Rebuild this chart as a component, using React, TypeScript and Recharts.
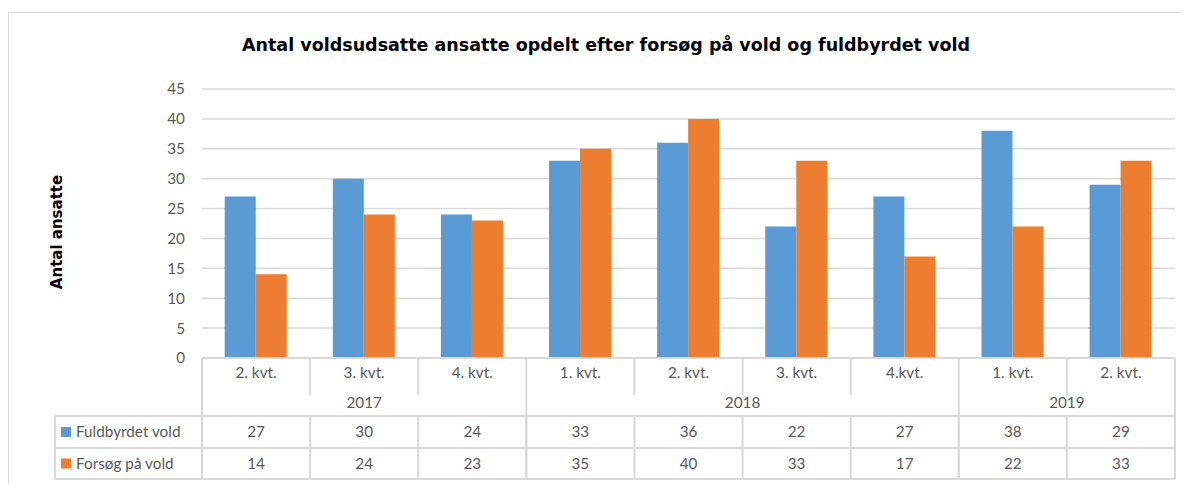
import { BarChart, Bar, XAxis, YAxis, CartesianGrid, Customized } from 'recharts';

const quarters = ['2. kvt.', '3. kvt.', '4. kvt.', '1. kvt.', '2. kvt.', '3. kvt.', '4.kvt.', '1. kvt.', '2. kvt.'];
const years = ['2017', '2017', '2017', '2018', '2018', '2018', '2018', '2019', '2019'];
const fuldbyrdet = [27, 30, 24, 33, 36, 22, 27, 38, 29];
const forsoeg = [14, 24, 23, 35, 40, 33, 17, 22, 33];
const seriesNames = ['Fuldbyrdet vold', 'Forsøg på vold'];
const seriesColors = ['#5b9bd5', '#ed7d31'];
const yTicks = [0, 5, 10, 15, 20, 25, 30, 35, 40, 45];

const data = quarters.map((q, i) => ({ q, year: years[i], a: fuldbyrdet[i], b: forsoeg[i] }));

const W = 1180;
const H = 471;
const M = { top: 76, right: 14, left: 133, bottom: 0 };
const Y_AXIS_W = 60;
const PLOT_L = M.left + Y_AXIS_W;
const PLOT_R = W - M.right;
const BAND = (PLOT_R - PLOT_L) / quarters.length;
const PLOT_B = 345;
const ROW1 = 403; // top of first data row
const ROW2 = 435;
const TABLE_B = 466;
const TABLE_L = 46;

const LINE = '#d9d9d9';
const TXT = '#595959';
const FONT = 'Lato, "Open Sans", sans-serif';
const FS = 15.3;

function TableTick(props: any) {
    const { x, payload } = props;
    const i = payload.index;
    const left = x - BAND / 2;
    const right = x + BAND / 2;
    const groupStart = i === 0 || years[i] !== years[i - 1];
    const rows = [fuldbyrdet, forsoeg];
    let yearLabel = null;
    if (groupStart) {
        const n = years.filter((y) => y === years[i]).length;
        yearLabel = (
            <text x={left + (n * BAND) / 2} y={395} textAnchor="middle" fill={TXT} fontSize={FS} fontFamily={FONT}>
                {years[i]}
            </text>
        );
    }
    return (
        <g>
            <line x1={left} x2={right} y1={PLOT_B} y2={PLOT_B} stroke={LINE} strokeWidth={2} />
            <line x1={left} x2={right} y1={ROW1} y2={ROW1} stroke={LINE} strokeWidth={2} />
            <line x1={left} x2={right} y1={ROW2} y2={ROW2} stroke={LINE} strokeWidth={2} />
            <line x1={left} x2={right} y1={TABLE_B} y2={TABLE_B} stroke={LINE} strokeWidth={2} />
            <line x1={left} x2={left} y1={PLOT_B} y2={groupStart ? TABLE_B : 382} stroke={LINE} strokeWidth={2} />
            <line x1={left} x2={left} y1={ROW1} y2={TABLE_B} stroke={LINE} strokeWidth={2} />
            {i === quarters.length - 1 && (
                <line x1={right} x2={right} y1={PLOT_B} y2={TABLE_B} stroke={LINE} strokeWidth={2} />
            )}
            <text x={x} y={365} textAnchor="middle" fill={TXT} fontSize={FS} fontFamily={FONT}>
                {payload.value}
            </text>
            {yearLabel}
            {rows.map((r, k) => (
                <text key={k} x={x} y={(k === 0 ? ROW1 + ROW2 : ROW2 + TABLE_B) / 2 + 5} textAnchor="middle" fill={TXT} fontSize={FS} fontFamily={FONT}>
                    {r[i]}
                </text>
            ))}
        </g>
    );
}

function Decorations() {
    return (
        <g>
            <text x={597} y={38} textAnchor="middle" fontSize={17.5} fontWeight="bold" fontFamily='"DejaVu Sans", sans-serif' fill="#000">
                Antal voldsudsatte ansatte opdelt efter forsøg på vold og fuldbyrdet vold
            </text>
            <text x={53} y={219} transform="rotate(-90 53 219)" textAnchor="middle" fontSize={15} fontWeight="bold" fontFamily='"DejaVu Sans", sans-serif' fill="#000">
                Antal ansatte
            </text>
            {/* legend column of the data table */}
            <line x1={TABLE_L} x2={PLOT_L} y1={ROW1} y2={ROW1} stroke={LINE} strokeWidth={2} />
            <line x1={TABLE_L} x2={PLOT_L} y1={ROW2} y2={ROW2} stroke={LINE} strokeWidth={2} />
            <line x1={TABLE_L} x2={PLOT_L} y1={TABLE_B} y2={TABLE_B} stroke={LINE} strokeWidth={2} />
            <line x1={TABLE_L} x2={TABLE_L} y1={ROW1} y2={TABLE_B} stroke={LINE} strokeWidth={2} />
            {seriesNames.map((name, k) => {
                const cy = k === 0 ? (ROW1 + ROW2) / 2 : (ROW2 + TABLE_B) / 2;
                return (
                    <g key={name}>
                        <rect x={52} y={cy - 5} width={10} height={10} fill={seriesColors[k]} />
                        <text x={67} y={cy + 5} fill={TXT} fontSize={FS} fontFamily={FONT}>
                            {name}
                        </text>
                    </g>
                );
            })}
        </g>
    );
}

export default function App() {
    return (
        <div
            style={{
                width: 1181,
                height: 472,
                marginTop: 4,
                borderTop: `1px solid ${LINE}`,
                borderLeft: `1px solid ${LINE}`,
                boxSizing: 'border-box',
                background: '#fff',
            }}
        >
            <BarChart width={W} height={H} data={data} margin={M} barCategoryGap="21%" barGap={0}>
                <CartesianGrid vertical={false} stroke={LINE} strokeWidth={1.5} />
                <YAxis
                    width={Y_AXIS_W}
                    domain={[0, 45]}
                    ticks={yTicks}
                    interval={0}
                    axisLine={false}
                    tickLine={false}
                    tickSize={0}
                    tickMargin={17}
                    tick={{ fill: TXT, fontSize: FS, fontFamily: FONT }}
                />
                <XAxis
                    dataKey="q"
                    height={126}
                    interval={0}
                    axisLine={false}
                    tickLine={false}
                    tick={<TableTick />}
                />
                <Bar dataKey="a" name={seriesNames[0]} fill={seriesColors[0]} isAnimationActive={false} />
                <Bar dataKey="b" name={seriesNames[1]} fill={seriesColors[1]} isAnimationActive={false} />
                <Customized component={<Decorations />} />
            </BarChart>
        </div>
    );
}
